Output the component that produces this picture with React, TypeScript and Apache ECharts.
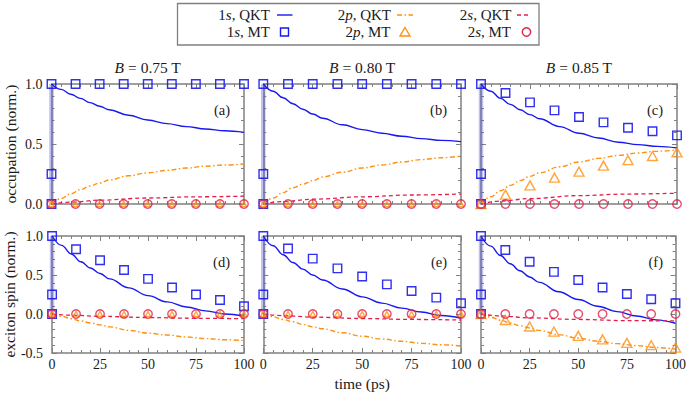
import React, { useEffect, useRef } from "react";
import * as echarts from "echarts";

// ---------- data ----------
const tQKT = [0, 5, 10, 15, 20, 25, 30, 40, 50, 60, 70, 80, 90, 100];
const tQKT2s = [0, 10, 25, 50, 75, 100];
const tMT = [0, 12.5, 25, 37.5, 50, 62.5, 75, 87.5, 100];
const mtRamp1s = [0, 0.25, 1.0]; // MT 1s values at t = 0 (fast rise)

// occupation, B = 0.75 T
const occ075Q1s = [1.0, 0.955, 0.915, 0.88, 0.845, 0.815, 0.785, 0.74, 0.7, 0.67, 0.645, 0.625, 0.61, 0.597];
const occ075Q2p = [0, 0.045, 0.085, 0.12, 0.15, 0.175, 0.2, 0.235, 0.26, 0.28, 0.3, 0.315, 0.325, 0.333];
const occ075Q2s = [0, 0.015, 0.032, 0.05, 0.06, 0.065];
const occ075M1s = [1, 1, 1, 1, 1, 1, 1, 1, 1];
const occ075M2p = [0, 0, 0, 0, 0, 0, 0, 0, 0];
const occ075M2s = [0, 0, 0, 0, 0, 0, 0, 0, 0];

// occupation, B = 0.80 T
const occ080Q1s = [1.0, 0.94, 0.885, 0.835, 0.79, 0.75, 0.715, 0.66, 0.62, 0.59, 0.565, 0.545, 0.53, 0.52];
const occ080Q2p = [0, 0.05, 0.095, 0.135, 0.165, 0.195, 0.225, 0.265, 0.3, 0.325, 0.35, 0.37, 0.385, 0.4];
const occ080Q2s = [0, 0.02, 0.04, 0.06, 0.075, 0.083];
const occ080M1s = [1, 1, 1, 1, 1, 1, 1, 1, 1];
const occ080M2p = [0, 0, 0, 0, 0, 0, 0, 0, 0];
const occ080M2s = [0, 0, 0, 0, 0, 0, 0, 0, 0];

// occupation, B = 0.85 T
const occ085Q1s = [1.0, 0.94, 0.88, 0.83, 0.785, 0.745, 0.71, 0.645, 0.59, 0.55, 0.515, 0.495, 0.48, 0.467];
const occ085Q2p = [0, 0.06, 0.11, 0.155, 0.195, 0.23, 0.26, 0.31, 0.35, 0.38, 0.405, 0.425, 0.44, 0.45];
const occ085Q2s = [0, 0.025, 0.045, 0.07, 0.083, 0.09];
const occ085M1s = [1.0, 0.925, 0.847, 0.78, 0.725, 0.68, 0.636, 0.606, 0.572];
const occ085M2p = [0, 0.078, 0.155, 0.22, 0.27, 0.32, 0.365, 0.4, 0.43];
const occ085M2s = [0, 0, 0, 0, 0, 0, 0, 0, 0];

// exciton spin, B = 0.75 T
const spin075Q1s = [1.0, 0.88, 0.77, 0.67, 0.59, 0.52, 0.45, 0.335, 0.235, 0.155, 0.09, 0.04, 0.0, -0.03];
const spin075Q2p = [0, -0.03, -0.06, -0.09, -0.115, -0.14, -0.165, -0.21, -0.245, -0.27, -0.295, -0.315, -0.33, -0.34];
const spin075Q2s = [0, -0.015, -0.03, -0.045, -0.055, -0.06];
const spin075M1s = [1.0, 0.83, 0.69, 0.565, 0.45, 0.34, 0.25, 0.18, 0.1];
const spin075M2p = [0, 0, 0, 0, 0, 0, 0, 0, 0];
const spin075M2s = [0, 0, 0, 0, 0, 0, 0, 0, 0];

// exciton spin, B = 0.80 T
const spin080Q1s = [1.0, 0.875, 0.76, 0.66, 0.575, 0.5, 0.435, 0.32, 0.22, 0.14, 0.075, 0.025, -0.02, -0.055];
const spin080Q2p = [0, -0.035, -0.07, -0.1, -0.135, -0.165, -0.19, -0.24, -0.285, -0.32, -0.35, -0.375, -0.395, -0.41];
const spin080Q2s = [0, -0.02, -0.04, -0.058, -0.07, -0.077];
const spin080M1s = [1.0, 0.84, 0.71, 0.585, 0.48, 0.38, 0.295, 0.21, 0.137];
const spin080M2p = [0, 0, 0, 0, 0, 0, 0, 0, 0];
const spin080M2s = [0, 0, 0, 0, 0, 0, 0, 0, 0];

// exciton spin, B = 0.85 T
const spin085Q1s = [1.0, 0.87, 0.75, 0.645, 0.555, 0.475, 0.405, 0.285, 0.185, 0.1, 0.03, -0.025, -0.075, -0.12];
const spin085Q2p = [0, -0.04, -0.08, -0.115, -0.15, -0.18, -0.21, -0.265, -0.31, -0.35, -0.38, -0.405, -0.43, -0.45];
const spin085Q2s = [0, -0.025, -0.05, -0.07, -0.085, -0.09];
const spin085M1s = [1.0, 0.82, 0.67, 0.54, 0.435, 0.34, 0.256, 0.19, 0.137];
const spin085M2p = [0, -0.077, -0.16, -0.225, -0.28, -0.325, -0.37, -0.4, -0.43];
const spin085M2s = [0, 0, 0, 0, 0, 0, 0, 0, 0];

const fieldLabels = ["0.75", "0.80", "0.85"];
const panelLabels = ["(a)", "(b)", "(c)", "(d)", "(e)", "(f)"];

// ---------- styling / layout ----------
const FONT = "Liberation Serif";
const BLUE = "#1818f0";
const ORANGE = "#ff9010";
const RED = "#e0204a";
const AXIS = "#808080";
const TEXT = "#1a1a1a";

const colLeft = [51.5, 263.3, 481];
const colWidth = [192.5, 197.7, 196];
const rowTop = [84, 236];
const rowHeight = [120, 117];

const panels = [
  { q1s: occ075Q1s, q2p: occ075Q2p, q2s: occ075Q2s, m1s: occ075M1s, m2p: occ075M2p, m2s: occ075M2s, bigTri: false },
  { q1s: occ080Q1s, q2p: occ080Q2p, q2s: occ080Q2s, m1s: occ080M1s, m2p: occ080M2p, m2s: occ080M2s, bigTri: false },
  { q1s: occ085Q1s, q2p: occ085Q2p, q2s: occ085Q2s, m1s: occ085M1s, m2p: occ085M2p, m2s: occ085M2s, bigTri: true },
  { q1s: spin075Q1s, q2p: spin075Q2p, q2s: spin075Q2s, m1s: spin075M1s, m2p: spin075M2p, m2s: spin075M2s, bigTri: false },
  { q1s: spin080Q1s, q2p: spin080Q2p, q2s: spin080Q2s, m1s: spin080M1s, m2p: spin080M2p, m2s: spin080M2s, bigTri: false },
  { q1s: spin085Q1s, q2p: spin085Q2p, q2s: spin085Q2s, m1s: spin085M1s, m2p: spin085M2p, m2s: spin085M2s, bigTri: true },
];

function buildOption() {
  const grid: any[] = [];
  const xAxis: any[] = [];
  const yAxis: any[] = [];
  const series: any[] = [];
  const graphic: any[] = [];

  const tickBase = (showLabel: boolean, position: string, extra: any = {}) => ({
    position,
    axisLine: { show: true, onZero: false, lineStyle: { color: AXIS, width: 1.5 } },
    axisTick: { show: true, inside: true, length: 5, lineStyle: { color: AXIS, width: 1 } },
    minorTick: { show: true, splitNumber: 5, length: 3, lineStyle: { color: AXIS, width: 1 } },
    splitLine: { show: false },
    minorSplitLine: { show: false },
    axisLabel: {
      show: showLabel,
      fontFamily: FONT,
      fontSize: 14,
      color: TEXT,
      ...extra,
    },
  });

  panels.forEach((p, i) => {
    const row = Math.floor(i / 3);
    const col = i % 3;
    const left = colLeft[col];
    const top = rowTop[row];
    const width = colWidth[col];
    const height = rowHeight[row];
    grid.push({ left, top, width, height, containLabel: false });

    const yMin = row === 0 ? 0 : -0.5;
    const xMain: any = {
      type: "value", gridIndex: i, min: 0, max: 100, interval: 25,
      ...tickBase(row === 1, "bottom", { margin: 4 }),
    };
    if (i === 4) {
      xMain.name = "time (ps)";
      xMain.nameLocation = "middle";
      xMain.nameGap = 22;
      xMain.nameTextStyle = { fontFamily: FONT, fontSize: 15.5, color: TEXT, verticalAlign: "top" };
    }
    xAxis.push(xMain);
    xAxis.push({ type: "value", gridIndex: i, min: 0, max: 100, interval: 25, ...tickBase(false, "top") });

    const yMain: any = {
      type: "value", gridIndex: i, min: yMin, max: 1, interval: 0.5,
      ...tickBase(col === 0, "left", { margin: 9, formatter: (v: number) => v.toFixed(1) }),
    };
    if (col === 0) {
      yMain.name = row === 0 ? "occupation (norm.)" : "exciton spin (norm.)";
      yMain.nameLocation = "middle";
      yMain.nameGap = 33;
      yMain.nameTextStyle = { fontFamily: FONT, fontSize: 15.5, color: TEXT };
    }
    yAxis.push(yMain);
    yAxis.push({ type: "value", gridIndex: i, min: yMin, max: 1, interval: 0.5, ...tickBase(false, "right") });

    const xi = 2 * i;
    const base = { xAxisIndex: xi, yAxisIndex: xi, clip: false, silent: true };
    series.push({
      ...base, type: "line", name: "1s, MT ramp",
      data: mtRamp1s.map((v) => [0, v]), symbol: "none",
      lineStyle: { color: "rgba(80,80,210,0.36)", width: 4.5 }, z: 3,
    });
    series.push({
      ...base, type: "line", name: "1s, QKT",
      data: tQKT.map((t, k) => [t, p.q1s[k]]), symbol: "none", smooth: 0.4, smoothMonotone: "x",
      lineStyle: { color: BLUE, width: 1.4 }, z: 4,
    });
    series.push({
      ...base, type: "line", name: "2p, QKT",
      data: tQKT.map((t, k) => [t, p.q2p[k]]), symbol: "none", smooth: 0.4, smoothMonotone: "x",
      lineStyle: { color: ORANGE, width: 1.4, type: [5, 2.5, 1.5, 2.5] }, z: 4,
    });
    series.push({
      ...base, type: "line", name: "2s, QKT",
      data: tQKT2s.map((t, k) => [t, p.q2s[k]]), symbol: "none", smooth: 0.4, smoothMonotone: "x",
      lineStyle: { color: RED, width: 1.3, type: [4, 3] }, z: 4,
    });
    series.push({
      ...base, type: "scatter", name: "1s, MT",
      data: [...mtRamp1s.slice(0, 2).map((v) => [0, v]), ...tMT.map((t, k) => [t, p.m1s[k]])],
      symbol: "rect", symbolSize: 8.5,
      itemStyle: { color: "rgba(0,0,0,0)", borderColor: BLUE, borderWidth: 1.4, opacity: 0.9 }, z: 5,
    });
    series.push({
      ...base, type: "scatter", name: "2p, MT",
      data: tMT.map((t, k) => [t, p.m2p[k]]),
      symbol: "triangle", symbolSize: p.bigTri ? [10, 9] : [5.5, 5],
      itemStyle: { color: "rgba(0,0,0,0)", borderColor: ORANGE, borderWidth: 1.4 }, z: 5,
    });
    series.push({
      ...base, type: "scatter", name: "2s, MT",
      data: tMT.map((t, k) => [t, p.m2s[k]]),
      symbol: "circle", symbolSize: 8.5,
      itemStyle: { color: "rgba(0,0,0,0)", borderColor: RED, borderWidth: 1.4 }, z: 5,
    });

    // panel label
    graphic.push({
      type: "text", x: left + width - 14, y: top + 25.5, silent: true,
      style: { text: panelLabels[i], fontFamily: FONT, fontSize: 14.5, fill: TEXT, align: "right", verticalAlign: "middle" },
    });
    // column title
    if (row === 0) {
      graphic.push({
        type: "text", x: left + width / 2, y: 67, silent: true,
        style: {
          text: `{i|B} = ${fieldLabels[col]} T`,
          rich: { i: { fontStyle: "italic", fontFamily: FONT, fontSize: 15.5, fill: TEXT } },
          fontFamily: FONT, fontSize: 15.5, fill: TEXT, align: "center", verticalAlign: "middle",
        },
      });
    }
  });

  // legend box
  const LF = 15;
  const lt = (text: string, x: number, y: number) => ({
    type: "text", x, y, silent: true,
    style: {
      text, rich: { i: { fontStyle: "italic", fontFamily: FONT, fontSize: LF, fill: TEXT } },
      fontFamily: FONT, fontSize: LF, fill: TEXT, align: "right", verticalAlign: "middle",
    },
  });
  graphic.push({
    type: "rect", silent: true, shape: { x: 177.5, y: 3.5, width: 361.5, height: 41.5 },
    style: { fill: "#fff", stroke: AXIS, lineWidth: 1.3 }, z: -1,
  });
  graphic.push(lt("1{i|s}, QKT", 270, 15));
  graphic.push(lt("1{i|s}, MT", 270, 32));
  graphic.push(lt("2{i|p}, QKT", 391, 15));
  graphic.push(lt("2{i|p}, MT", 390.5, 32));
  graphic.push(lt("2{i|s}, QKT", 511.5, 15));
  graphic.push(lt("2{i|s}, MT", 511, 32));
  graphic.push({ type: "line", silent: true, shape: { x1: 277, y1: 15, x2: 292.5, y2: 15 }, style: { stroke: BLUE, lineWidth: 1.4 } });
  graphic.push({ type: "line", silent: true, shape: { x1: 397, y1: 15, x2: 413, y2: 15 }, style: { stroke: ORANGE, lineWidth: 1.4, lineDash: [5, 2.5, 1.5, 2.5] } });
  graphic.push({ type: "line", silent: true, shape: { x1: 517, y1: 15, x2: 531, y2: 15 }, style: { stroke: RED, lineWidth: 1.3, lineDash: [4, 3] } });
  graphic.push({ type: "rect", silent: true, shape: { x: 280.5, y: 28, width: 8, height: 8 }, style: { fill: "none", stroke: BLUE, lineWidth: 1.4 } });
  graphic.push({ type: "polygon", silent: true, shape: { points: [[405, 27.5], [410, 36], [400, 36]] }, style: { fill: "none", stroke: ORANGE, lineWidth: 1.4 } });
  graphic.push({ type: "circle", silent: true, shape: { cx: 526.5, cy: 32, r: 4.2 }, style: { fill: "none", stroke: RED, lineWidth: 1.4 } });

  return {
    animation: false,
    backgroundColor: "#fff",
    grid, xAxis, yAxis, series, graphic,
  };
}

export default function App() {
  const ref = useRef<HTMLDivElement>(null);
  useEffect(() => {
    if (!ref.current) return;
    const chart = echarts.init(ref.current, null, { renderer: "svg" });
    chart.setOption(buildOption() as any);
    return () => chart.dispose();
  }, []);
  return <div ref={ref} style={{ position: "absolute", left: 0, top: 0, width: 689, height: 393 }} />;
}
